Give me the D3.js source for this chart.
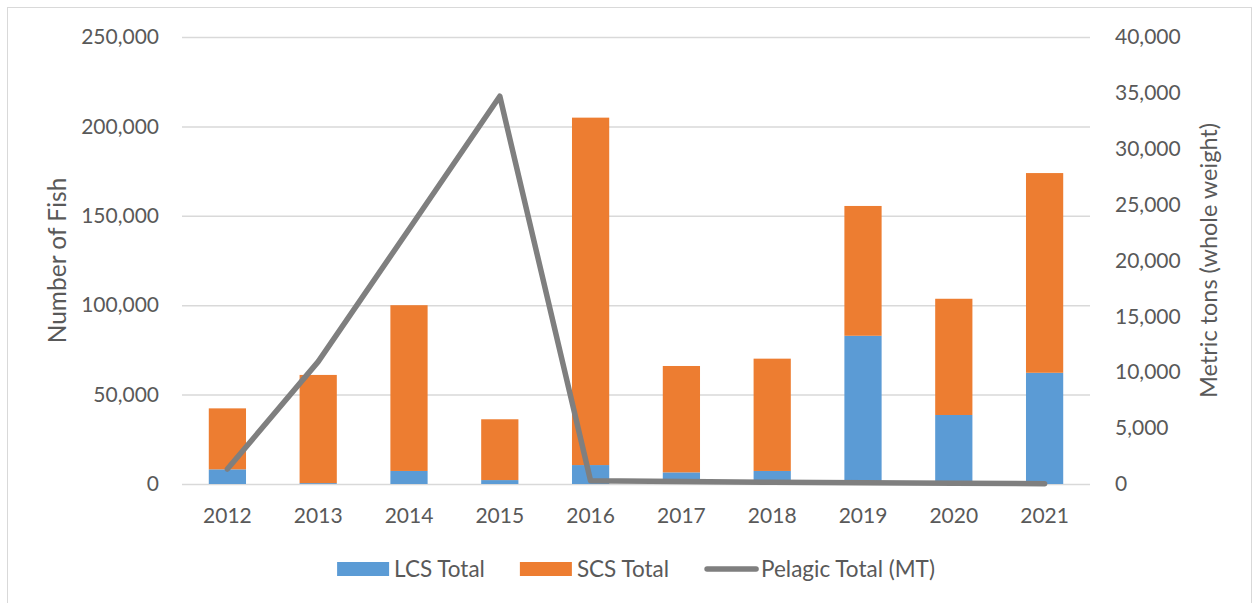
<!DOCTYPE html>
<meta charset="utf-8">
<html>
	<head>
		<script src="https://d3js.org/d3.v7.min.js"></script>
		<style>
			body { margin: 0; background: #fff; }
			text { font-family: Lato, "Open Sans", sans-serif; fill: #595959; }
		</style>
	</head>
	<body>
		<script>
			// data
			var years = ["2012", "2013", "2014", "2015", "2016", "2017", "2018", "2019", "2020", "2021"];
			var lcsTotal = [8200, 500, 7300, 2200, 10600, 6500, 7300, 82900, 38600, 62200];
			var scsTotal = [34100, 60500, 92700, 34000, 194300, 59500, 62800, 72600, 65000, 111700];
			var pelagicTotal = [1340, 10950, 22800, 34700, 280, 220, 160, 110, 60, 25];
			var leftTicks = [0, 50000, 100000, 150000, 200000, 250000];
			var rightTicks = [0, 5000, 10000, 15000, 20000, 25000, 30000, 35000, 40000];

			var W = 1253, H = 603;
			var margin = {top: 37, bottom: 119, left: 182, right: 163};

			var svg = d3.select("body").append("svg")
				.attr("width", W)
				.attr("height", H);

			// chart frame
			svg.append("rect")
				.attr("x", 7.5).attr("y", 7.5)
				.attr("width", W - 9).attr("height", H - 6)
				.attr("fill", "none")
				.attr("stroke", "#d9d9d9");

			var x = d3.scaleBand()
				.domain(years)
				.range([margin.left, W - margin.right]);

			var yL = d3.scaleLinear()
				.domain([0, 250000])
				.range([H - margin.bottom, margin.top]);

			var yR = d3.scaleLinear()
				.domain([0, 40000])
				.range([H - margin.bottom, margin.top]);

			var fmt = d3.format(",");

			//gridlines + left ticks
			var leftAxis = svg.append("g")
				.attr("transform", "translate(" + margin.left + ",0)")
				.call(d3.axisLeft(yL).tickValues(leftTicks).tickFormat(fmt)
					.tickSize(-(W - margin.left - margin.right)).tickPadding(23));
			leftAxis.select(".domain").remove();
			leftAxis.selectAll("line").attr("stroke", "#d9d9d9").attr("stroke-width", 1.5);
			leftAxis.selectAll("text").attr("font-size", 21).attr("fill", "#595959");

			var rightAxis = svg.append("g")
				.attr("transform", "translate(" + (W - margin.right) + ",0)")
				.call(d3.axisRight(yR).tickValues(rightTicks).tickFormat(fmt)
					.tickSize(0).tickPadding(25));
			rightAxis.select(".domain").remove();
			rightAxis.selectAll("text").attr("font-size", 21).attr("fill", "#595959");

			var xAxis = svg.append("g")
				.attr("transform", "translate(0," + (H - margin.bottom) + ")")
				.call(d3.axisBottom(x).tickSize(0).tickPadding(24));
			xAxis.select(".domain").remove();
			xAxis.selectAll("text").attr("font-size", 21).attr("fill", "#595959");

			//stacked bars
			var rows = years.map(function(y, i) {
				return {year: y, lcs: lcsTotal[i], scs: scsTotal[i]};
			});
			var stack = d3.stack().keys(["lcs", "scs"])(rows);
			var colors = {lcs: "#5b9bd5", scs: "#ed7d31"};
			var barW = x.bandwidth() * 0.41;

			svg.append("g").selectAll("g")
				.data(stack)
			  .enter().append("g")
				.attr("fill", function(d) { return colors[d.key]; })
			  .selectAll("rect")
				.data(function(d) { return d; })
			  .enter().append("rect")
				.attr("x", function(d) { return x(d.data.year) + (x.bandwidth() - barW) / 2; })
				.attr("y", function(d) { return yL(d[1]); })
				.attr("width", barW)
				.attr("height", function(d) { return yL(d[0]) - yL(d[1]); });

			//pelagic line on right axis
			var line = d3.line()
				.x(function(d, i) { return x(years[i]) + x.bandwidth() / 2; })
				.y(function(d) { return yR(d); });

			svg.append("path")
				.datum(pelagicTotal)
				.attr("d", line)
				.attr("fill", "none")
				.attr("stroke", "#7f7f7f")
				.attr("stroke-width", 5.5)
				.attr("stroke-linejoin", "round")
				.attr("stroke-linecap", "round");

			//axis titles
			svg.append("text")
				.attr("transform", "translate(66," + ((H - margin.bottom + margin.top) / 2) + ") rotate(-90)")
				.attr("text-anchor", "middle")
				.attr("font-size", 24.5)
				.text("Number of Fish");

			svg.append("text")
				.attr("transform", "translate(1217," + ((H - margin.bottom + margin.top) / 2) + ") rotate(-90)")
				.attr("text-anchor", "middle")
				.attr("font-size", 23.5)
				.text("Metric tons (whole weight)");

			//legend
			var legendItems = [
				{name: "LCS Total", type: "rect", color: colors.lcs},
				{name: "SCS Total", type: "rect", color: colors.scs},
				{name: "Pelagic Total (MT)", type: "line", color: "#7f7f7f"}
			];
			var legend = svg.append("g").attr("transform", "translate(0,569)");
			var lx = 0;
			legendItems.forEach(function(d, i) {
				var g = legend.append("g").attr("transform", "translate(" + lx + ",0)");
				if (d.type == "rect") {
					g.append("rect").attr("x", 0).attr("y", -7).attr("width", 52).attr("height", 14).attr("fill", d.color);
				} else {
					g.append("line").attr("x1", 3).attr("x2", 52).attr("y1", 0).attr("y2", 0)
						.attr("stroke", d.color).attr("stroke-width", 5.5).attr("stroke-linecap", "round");
				}
				var t = g.append("text").attr("x", 57).attr("dy", "0.35em").attr("font-size", 22.5).text(d.name);
				lx += 57 + t.node().getComputedTextLength() + 35;
			});
			var lw = lx - 35;
			legend.attr("transform", "translate(" + ((margin.left + W - margin.right) / 2 - lw / 2) + ",569)");
		</script>
	</body>
</html>
